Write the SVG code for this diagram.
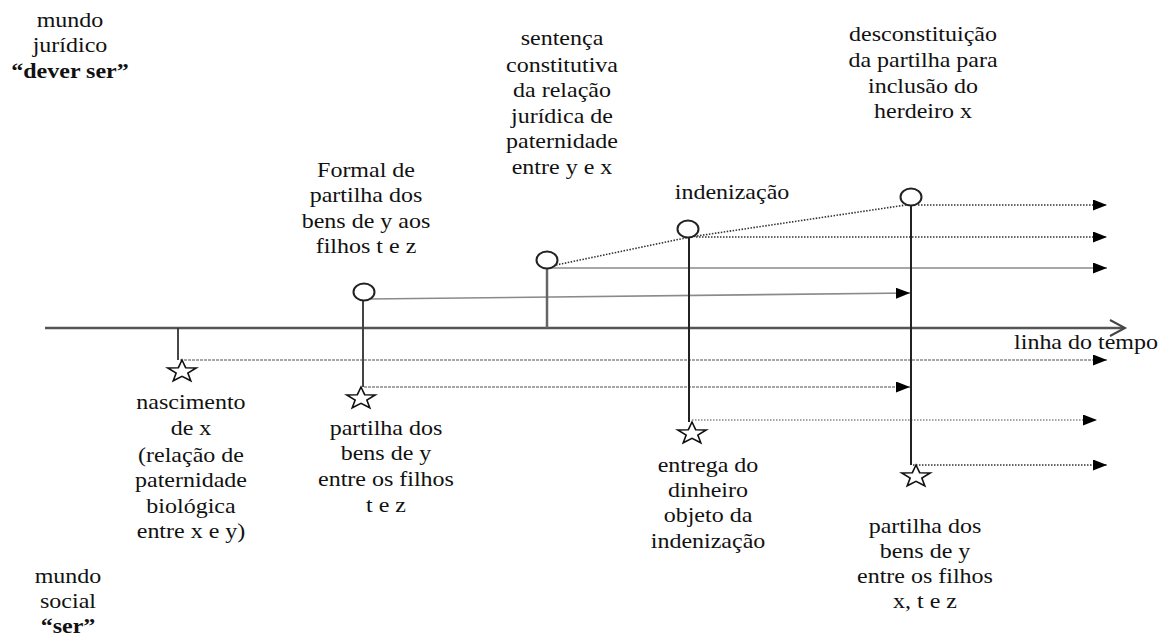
<svg xmlns="http://www.w3.org/2000/svg" xmlns:xlink="http://www.w3.org/1999/xlink" width="1168" height="637" viewBox="0 0 1168 637">
<style>
.t{font-family:'Liberation Serif','DejaVu Serif',serif;font-size:20px;fill:#111;text-anchor:middle}
.b{font-weight:bold}
.dot{fill:none;stroke:#333;stroke-width:1.6;stroke-dasharray:1.5 1.5}
.gray{fill:none;stroke:#8a8a8a;stroke-width:1.6}
.gdash{fill:none;stroke:#8a8a8a;stroke-width:1.6;stroke-dasharray:3 1}
.gdot{fill:none;stroke:#888;stroke-width:1.6;stroke-dasharray:1.5 1.5}
.arr{marker-end:url(#ah)}
.vl{stroke:#222;stroke-width:2}
.circ{fill:#fff;stroke:#222;stroke-width:2}
.star{fill:#fff;stroke:#111;stroke-width:1.6}
</style>
<defs>
<marker id="ah" markerUnits="userSpaceOnUse" markerWidth="16" markerHeight="12" refX="14" refY="5.5" orient="auto">
<path d="M0,0 L14,5.5 L0,11 Z" fill="#000"/>
</marker>
<path id="star" d="M0,-11.5 L2.8,-3.8 L10.94,-3.55 L4.5,1.5 L6.76,9.3 L0,4.8 L-6.76,9.3 L-4.5,1.5 L-10.94,-3.55 L-2.8,-3.8 Z" vector-effect="non-scaling-stroke"/>
</defs>
<rect width="1168" height="637" fill="#fff"/>

<g id="timeline">
<line x1="45" y1="328" x2="1124" y2="328" stroke="#555" stroke-width="2.5"/>
<polyline points="1110,320 1125,328 1110,336" fill="none" stroke="#444" stroke-width="2"/>
<g transform="translate(1086 0) scale(1.2 1)"><text class="t" font-family="Liberation Serif, serif" x="0" y="349">linha do tempo</text></g>
</g>

<g id="connectors">
<polyline class="dot" points="556,265 690,237 906,205"/>
<line class="dot arr" x1="918" y1="205" x2="1107" y2="205"/>
<line class="dot arr" x1="696" y1="237" x2="1107" y2="237"/>
<line class="gray arr" x1="550" y1="268" x2="1107" y2="268"/>
<line class="gray arr" x1="368" y1="299" x2="910" y2="293"/>
<line class="gdash arr" x1="180" y1="360" x2="1107" y2="360"/>
<line class="gdash arr" x1="364" y1="387" x2="910" y2="387"/>
<line class="gdot arr" x1="692" y1="420" x2="1097" y2="420"/>
<line class="dot arr" x1="913" y1="465" x2="1107" y2="465"/>
<line x1="178" y1="328" x2="178" y2="360" stroke="#333" stroke-width="1.8"/>
<line x1="363" y1="300" x2="363" y2="387" stroke="#444" stroke-width="2"/>
<line x1="547" y1="268" x2="547" y2="328" stroke="#666" stroke-width="2.5"/>
<line class="vl" x1="689" y1="237" x2="689" y2="422"/>
<line class="vl" x1="911" y1="205" x2="911" y2="465"/>
</g>

<g id="mundo-juridico">
<g transform="translate(70 0) scale(1.2 1)"><text class="t" font-family="Liberation Serif, serif"><tspan x="0" y="27">mundo</tspan><tspan x="0" y="52">jurídico</tspan><tspan x="0" y="78" class="b">“dever ser”</tspan></text></g>
</g>

<g id="mundo-social">
<g transform="translate(68 0) scale(1.2 1)"><text class="t" font-family="Liberation Serif, serif"><tspan x="0" y="583">mundo</tspan><tspan x="0" y="608">social</tspan><tspan x="0" y="633" class="b">“ser”</tspan></text></g>
</g>

<g id="formal">
<ellipse class="circ" cx="364" cy="292" rx="10.5" ry="8.5"/>
<g transform="translate(366 0) scale(1.2 1)"><text class="t" font-family="Liberation Serif, serif"><tspan x="0" y="177">Formal de</tspan><tspan x="0" y="202">partilha dos</tspan><tspan x="0" y="228">bens de y aos</tspan><tspan x="0" y="253">filhos t e z</tspan></text></g>
</g>

<g id="sentenca">
<ellipse class="circ" cx="547" cy="260" rx="10.5" ry="8.5"/>
<g transform="translate(562 0) scale(1.2 1)"><text class="t" font-family="Liberation Serif, serif"><tspan x="0" y="45">sentença</tspan><tspan x="0" y="72">constitutiva</tspan><tspan x="0" y="97">da relação</tspan><tspan x="0" y="123">jurídica de</tspan><tspan x="0" y="148">paternidade</tspan><tspan x="0" y="174">entre y e x</tspan></text></g>
</g>

<g id="indenizacao">
<ellipse class="circ" cx="688" cy="229" rx="10.5" ry="8.5"/>
<g transform="translate(732 0) scale(1.2 1)"><text class="t" font-family="Liberation Serif, serif" x="0" y="199">indenização</text></g>
</g>

<g id="desconstituicao">
<ellipse class="circ" cx="911" cy="197" rx="10.5" ry="8.5"/>
<g transform="translate(923 0) scale(1.2 1)"><text class="t" font-family="Liberation Serif, serif"><tspan x="0" y="41">desconstituição</tspan><tspan x="0" y="67">da partilha para</tspan><tspan x="0" y="93">inclusão do</tspan><tspan x="0" y="118">herdeiro x</tspan></text></g>
</g>

<g id="nascimento">
<use xlink:href="#star" class="star" transform="translate(182 371.5) scale(1.3 1)"/>
<g transform="translate(191 0) scale(1.2 1)"><text class="t" font-family="Liberation Serif, serif"><tspan x="0" y="409">nascimento</tspan><tspan x="0" y="435">de x</tspan><tspan x="0" y="462">(relação de</tspan><tspan x="0" y="487">paternidade</tspan><tspan x="0" y="513">biológica</tspan><tspan x="0" y="538">entre x e y)</tspan></text></g>
</g>

<g id="partilha-1">
<use xlink:href="#star" class="star" transform="translate(361 398.5) scale(1.3 1)"/>
<g transform="translate(386 0) scale(1.2 1)"><text class="t" font-family="Liberation Serif, serif"><tspan x="0" y="435">partilha dos</tspan><tspan x="0" y="460">bens de y</tspan><tspan x="0" y="486">entre os filhos</tspan><tspan x="0" y="512">t e z</tspan></text></g>
</g>

<g id="entrega">
<use xlink:href="#star" class="star" transform="translate(692 433.5) scale(1.3 1)"/>
<g transform="translate(708 0) scale(1.2 1)"><text class="t" font-family="Liberation Serif, serif"><tspan x="0" y="472">entrega do</tspan><tspan x="0" y="497">dinheiro</tspan><tspan x="0" y="522">objeto da</tspan><tspan x="0" y="548">indenização</tspan></text></g>
</g>

<g id="partilha-2">
<use xlink:href="#star" class="star" transform="translate(916 476.5) scale(1.3 1)"/>
<g transform="translate(925 0) scale(1.2 1)"><text class="t" font-family="Liberation Serif, serif"><tspan x="0" y="533">partilha dos</tspan><tspan x="0" y="558">bens de y</tspan><tspan x="0" y="583">entre os filhos</tspan><tspan x="0" y="608">x, t e z</tspan></text></g>
</g>
</svg>
